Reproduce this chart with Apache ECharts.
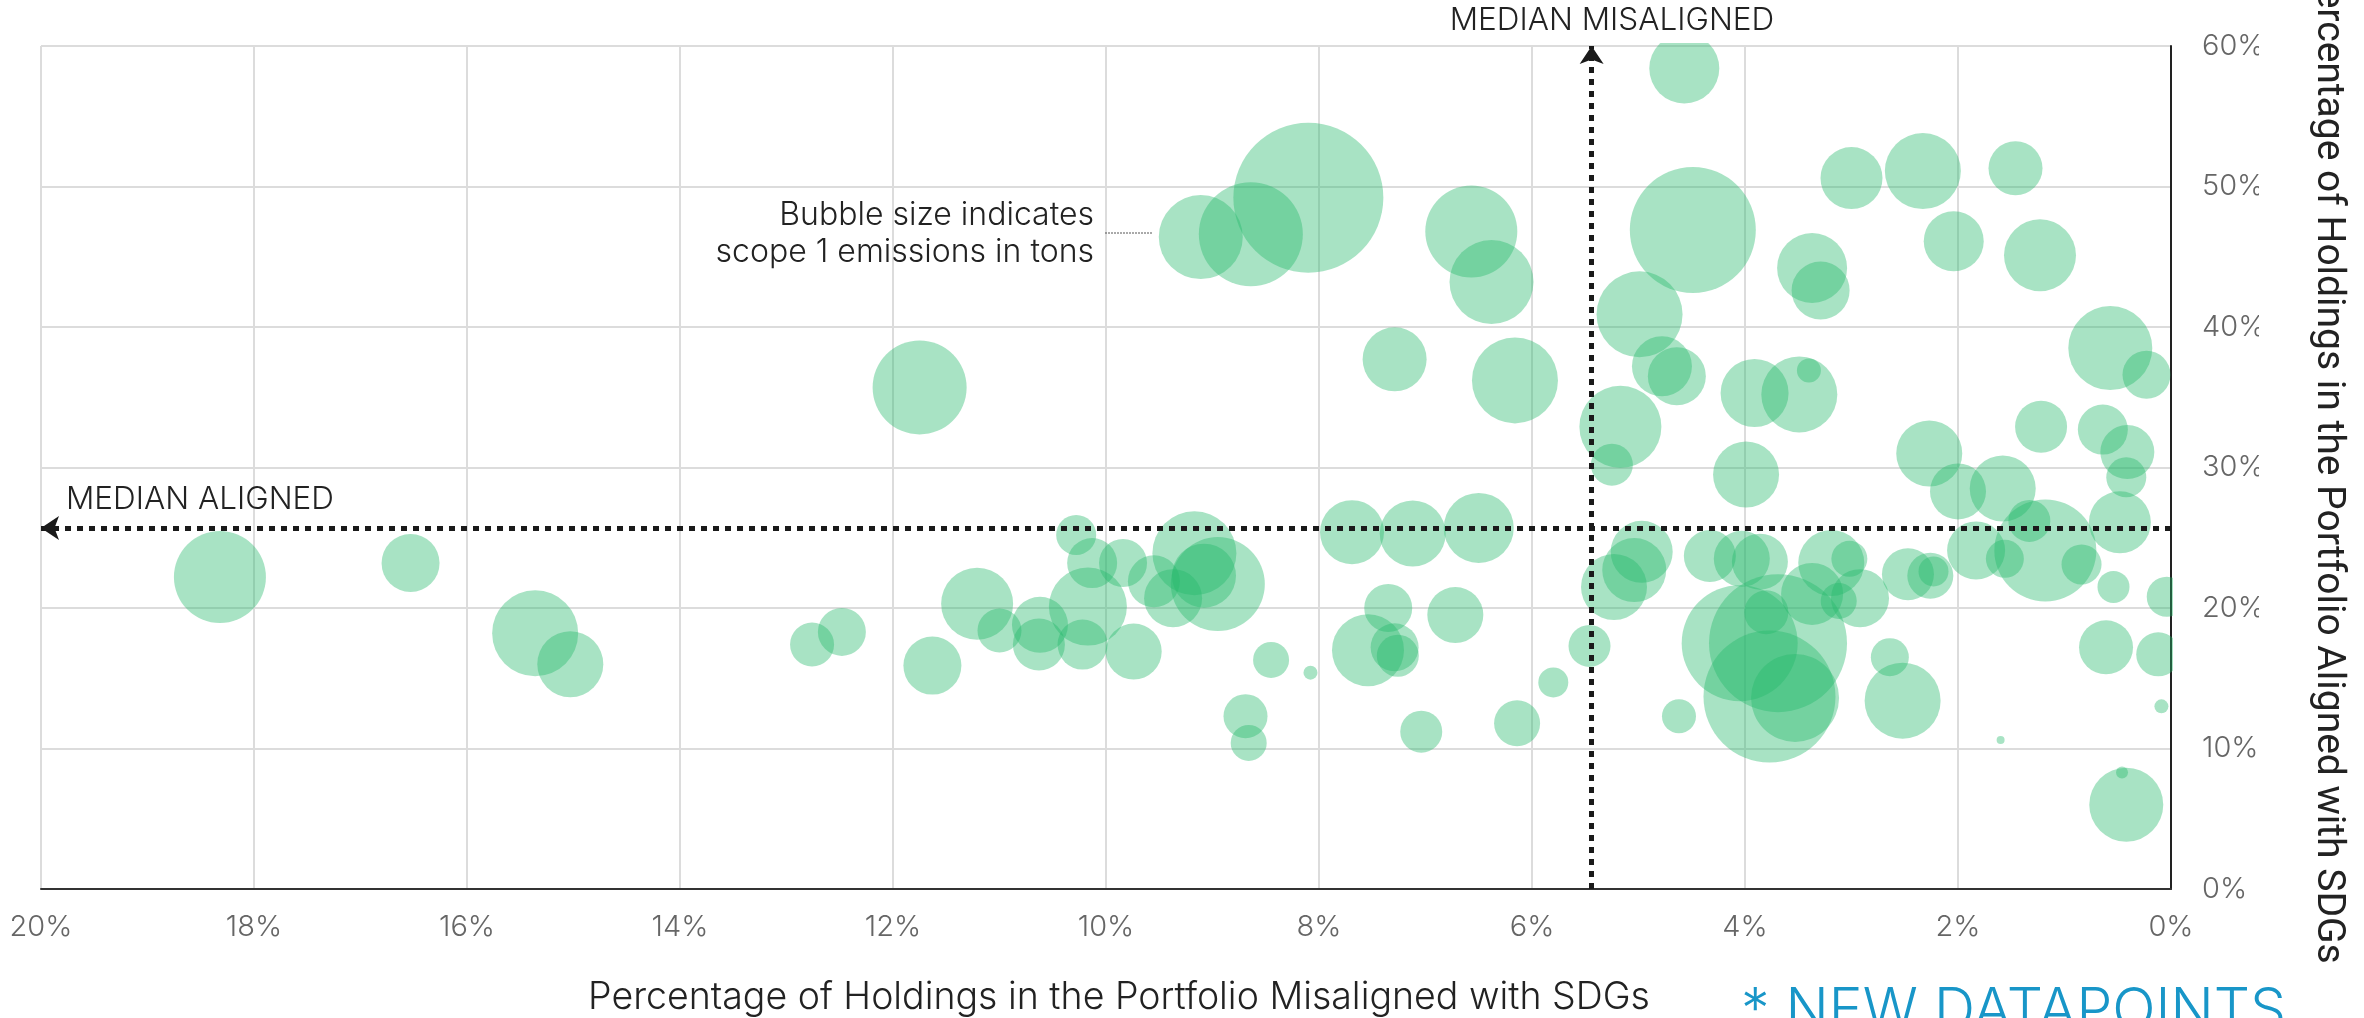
<!DOCTYPE html>
<html>
<head>
    <meta charset="utf-8">
    <title>SDG alignment bubble chart</title>
    <script src="https://cdn.jsdelivr.net/npm/echarts@6/dist/echarts.min.js"></script>
    <style>
        html, body { margin: 0; padding: 0; background: #fff; }
        #main { width: 2364px; height: 1018px; }
    </style>
</head>
<body>
<div id="main"></div>
<script type="text/javascript">
    // % of holdings misaligned with SDGs (x axis, reversed)
    var misaligned = [
        18.32, 16.53, 15.36, 15.03, 12.76, 12.48, 11.75, 11.63, 11.21, 11.00,
        10.62, 10.63, 10.28, 10.13, 10.17, 10.22, 9.84, 9.74, 9.55, 9.37,
        9.17, 9.08, 8.95, 9.11, 8.64, 8.10, 8.45, 8.69, 8.66, 8.08,
        7.69, 7.12, 6.50, 7.35, 7.29, 7.54, 7.26, 7.04, 6.72, 7.29,
        6.57, 6.38, 6.16, 6.14, 5.80, 5.46, 5.17, 5.25, 5.23, 4.99,
        4.97, 5.04, 4.78, 4.64, 4.57, 4.49, 4.62, 4.33, 3.99, 3.91,
        3.49, 3.40, 3.37, 3.29, 3.00, 2.33, 2.04, 1.46, 1.23, 0.57,
        0.23, 2.27, 2.00, 1.58, 1.22, 0.64, 0.41, 0.42, 0.48, 1.33,
        1.18, 1.83, 1.56, 0.84, 0.54, 0.04, 0.61, 0.12, 0.09, 0.42,
        0.46, 1.60, 2.64, 2.52, 2.47, 2.26, 2.23, 2.92, 3.02, 3.19,
        3.12, 3.37, 4.03, 3.86, 4.05, 3.69, 3.77, 3.53, 3.80
    ];
    // % of holdings aligned with SDGs (y axis)
    var aligned = [
        22.2, 23.2, 18.2, 16.0, 17.4, 18.3, 35.7, 15.9, 20.3, 18.4,
        18.8, 17.4, 25.2, 23.2, 20.1, 17.4, 23.2, 16.9, 21.9, 20.7,
        23.9, 22.3, 21.7, 46.4, 46.6, 49.2, 16.3, 12.3, 10.4, 15.4,
        25.4, 25.3, 25.7, 20.0, 17.2, 17.0, 16.6, 11.2, 19.5, 37.7,
        46.8, 43.2, 36.2, 11.8, 14.7, 17.3, 32.9, 30.2, 21.5, 40.9,
        24.0, 22.7, 37.2, 36.5, 58.4, 46.9, 12.3, 23.7, 29.5, 35.3,
        35.2, 36.9, 44.2, 42.6, 50.6, 51.1, 46.1, 51.3, 45.1, 38.5,
        36.6, 31.0, 28.3, 28.5, 32.9, 32.7, 31.1, 29.3, 26.1, 26.2,
        24.1, 24.1, 23.5, 23.1, 21.5, 20.8, 17.2, 16.7, 13.0, 6.0,
        8.3, 10.6, 16.5, 13.4, 22.4, 22.3, 22.6, 20.7, 23.5, 23.2,
        20.5, 21.0, 23.5, 23.3, 17.5, 17.5, 13.7, 13.6, 19.7
    ];
    // scope 1 emissions (relative units, bubble area)
    var emissions = [
        2116, 841, 1849, 1089, 484, 576, 2209, 841, 1296, 484,
        784, 676, 400, 625, 1521, 625, 576, 784, 676, 841,
        1764, 1024, 2209, 1764, 2704, 5625, 324, 484, 324, 49,
        1024, 1089, 1225, 576, 576, 1296, 441, 441, 784, 1024,
        2116, 1764, 1849, 529, 225, 441, 1681, 441, 1089, 1849,
        961, 1024, 900, 841, 1225, 3969, 289, 676, 1089, 1156,
        1444, 144, 1225, 841, 961, 1444, 900, 729, 1296, 1764,
        576, 1089, 784, 1089, 676, 625, 729, 400, 961, 441,
        2601, 841, 361, 400, 256, 400, 729, 484, 49, 1369,
        36, 16, 361, 1444, 676, 529, 225, 841, 324, 1089,
        324, 961, 784, 784, 3364, 4761, 4356, 1936, 484
    ];
    var medianMisaligned = 5.44;
    var medianAligned = 25.7;

    var points = [];
    for (var i = 0; i < misaligned.length; i++) {
        points.push([misaligned[i], aligned[i], emissions[i]]);
    }

    var myChart = echarts.init(document.getElementById('main'));

    var lightFont = 'Inter, "Noto Sans", sans-serif';

    var option = {
        animation: false,
        backgroundColor: '#fff',
        grid: {left: 41, right: 193, top: 46, bottom: 129, containLabel: false, outerBoundsMode: 'none'},
        xAxis: {
            type: 'value',
            inverse: true,
            min: 0,
            max: 20,
            interval: 2,
            name: 'Percentage of Holdings in the Portfolio Misaligned with SDGs',
            nameLocation: 'middle',
            nameGap: 90,
            nameTextStyle: {fontFamily: lightFont, fontWeight: 300, fontSize: 37.5, color: '#222', padding: [0, 0, 0, 26]},
            axisLine: {show: true, lineStyle: {color: '#333', width: 2}},
            axisTick: {show: false},
            axisLabel: {
                formatter: '{value}%',
                margin: 24,
                fontFamily: lightFont, fontWeight: 300, fontSize: 29, color: '#666'
            },
            splitLine: {show: true, lineStyle: {color: '#dcdcdc', width: 2}}
        },
        yAxis: {
            type: 'value',
            position: 'right',
            min: 0,
            max: 60,
            interval: 10,
            name: 'Percentage of Holdings in the Portfolio Aligned with SDGs',
            nameLocation: 'middle',
            nameRotate: -90,
            nameGap: 137,
            nameTextStyle: {fontFamily: 'Roboto', fontSize: 39, color: '#222', padding: [0, 8, 0, 0]},
            axisLine: {show: true, lineStyle: {color: '#222', width: 2}},
            axisTick: {show: false},
            axisLabel: {
                formatter: '{value}%',
                margin: 31,
                fontFamily: lightFont, fontWeight: 300, fontSize: 29, color: '#666'
            },
            splitLine: {show: true, lineStyle: {color: '#dcdcdc', width: 2}}
        },
        series: [
            {
                type: 'scatter',
                z: 2,
                data: points,
                symbolSize: function (val) {
                    return 2 * Math.sqrt(val[2]);
                },
                itemStyle: {color: '#26b96c', opacity: 0.4},
                emphasis: {disabled: true},
                markLine: {
                    silent: true,
                    animation: false,
                    symbol: ['none', 'arrow'],
                    symbolSize: [18, 18],
                    label: {show: false},
                    lineStyle: {color: '#1a1a1a', width: 5, type: [6, 6], opacity: 1},
                    emphasis: {disabled: true},
                    data: [
                        [{coord: [medianMisaligned, 0]}, {coord: [medianMisaligned, 60]}],
                        [{coord: [0, medianAligned]}, {coord: [20, medianAligned]}]
                    ]
                }
            }
        ],
        graphic: [
            // trim bubbles that run past the plot edges
            {type: 'rect', z: 3, silent: true, shape: {x: 2173, y: 20, width: 27, height: 870}, style: {fill: '#fff'}},
            {type: 'rect', z: 3, silent: true, shape: {x: 41, y: 0, width: 2131, height: 43}, style: {fill: '#fff'}},
            // tick labels are cut off on the right in the original
            {type: 'rect', z: 3, silent: true, shape: {x: 2259, y: 20, width: 40, height: 880}, style: {fill: '#fff'}},
            {
                type: 'text', z: 10, x: 1612, y: 21,
                style: {text: 'MEDIAN MISALIGNED', font: '300 31.5px ' + lightFont, fill: '#222', align: 'center', verticalAlign: 'middle'}
            },
            {
                type: 'text', z: 10, x: 66, y: 500,
                style: {text: 'MEDIAN ALIGNED', font: '300 31.5px ' + lightFont, fill: '#222', verticalAlign: 'middle'}
            },
            {
                type: 'text', z: 10, x: 1094, y: 234,
                style: {
                    text: 'Bubble size indicates\nscope 1 emissions in tons',
                    font: '300 32px ' + lightFont, fill: '#222',
                    align: 'right', verticalAlign: 'middle', lineHeight: 37
                }
            },
            {
                type: 'line', z: 10, silent: true,
                shape: {x1: 1105, y1: 233, x2: 1153, y2: 233},
                style: {stroke: '#555', lineWidth: 1, lineDash: [2, 1]}
            },
            {
                type: 'text', z: 10, x: 1741, y: 983,
                style: {text: '* NEW DATAPOINTS', font: '300 57px ' + lightFont, fill: '#1896c8', verticalAlign: 'top'}
            }
        ]
    };

    myChart.setOption(option);
</script>
</body>
</html>
